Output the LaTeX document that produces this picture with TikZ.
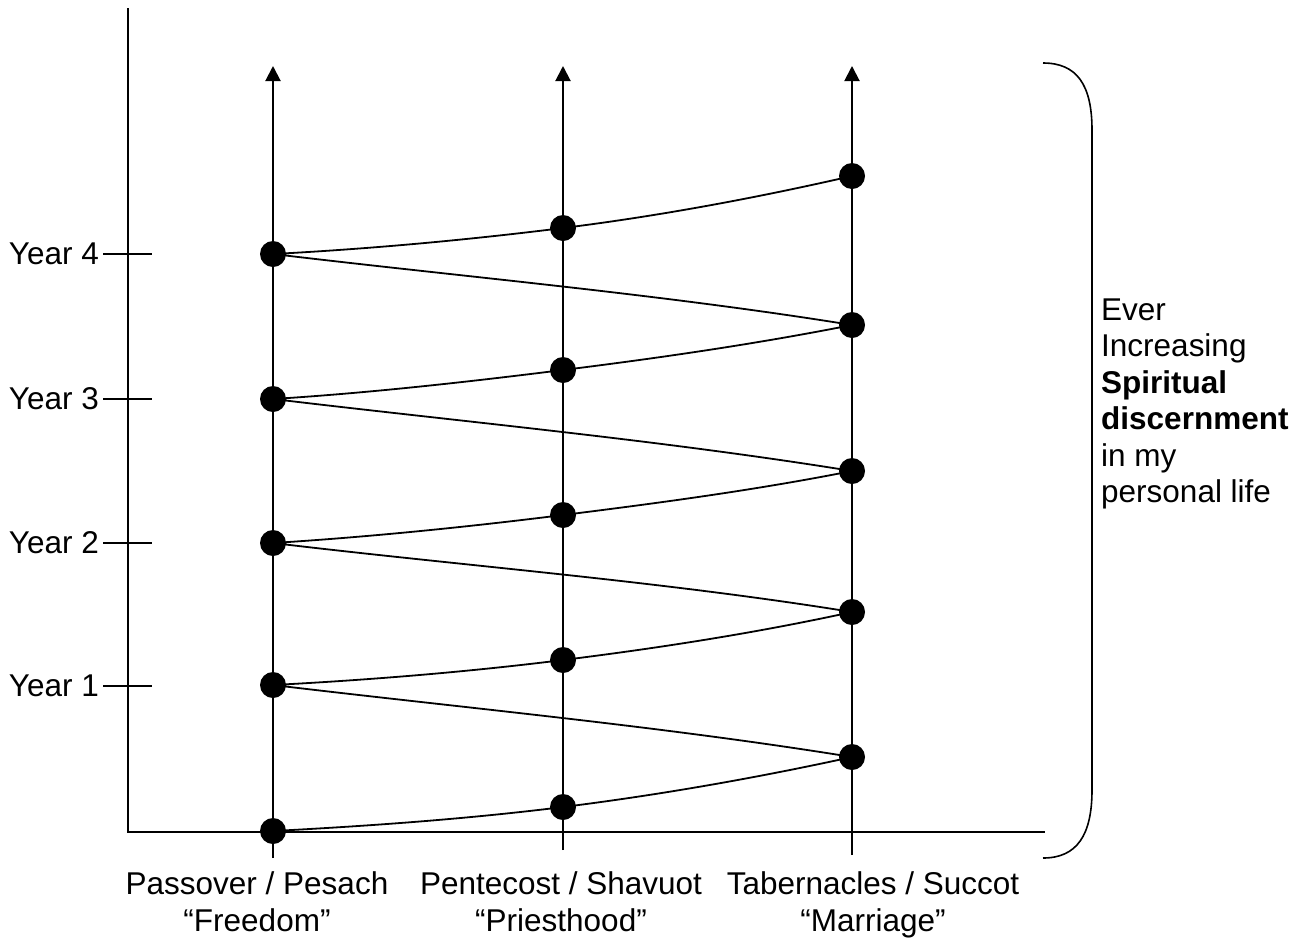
\documentclass[tikz,border=0pt]{standalone}
\usepackage{fontspec}
\setmainfont{Liberation Sans}
\usetikzlibrary{arrows.meta}
\begin{document}
\begin{tikzpicture}[x=1pt,y=-1pt,
  ln/.style={line width=2pt},
  col/.style={line width=2pt,-{Triangle[length=15pt,width=15pt]}},
  dotn/.style={circle,fill=black,minimum size=26pt,inner sep=0pt},
  lbl/.style={font=\fontsize{31.5}{36.5}\selectfont,inner sep=0pt},
  crv/.style={line width=1.8pt},
  tick/.style={line width=1.8pt}]
\useasboundingbox (0,0) rectangle (1315,938);
% axes
\coordinate (ytop) at (128,8);
\coordinate (orig) at (128,832);
\coordinate (xend) at (1045,832);
\draw[ln] (ytop) -- (orig) -- (xend);
% columns
\coordinate (pbot) at (273,858); \coordinate (ptop) at (273,66);
\coordinate (qbot) at (563,850); \coordinate (qtop) at (563,66);
\coordinate (tbot) at (852,855); \coordinate (ttop) at (852,66);
\draw[col] (pbot) -- (ptop);
\draw[col] (qbot) -- (qtop);
\draw[col] (tbot) -- (ttop);
% year ticks and labels
\foreach \n/\yy in {1/686,2/543,3/399,4/254}{
  \coordinate (ya\n) at (103,\yy);
  \coordinate (yb\n) at (152,\yy);
  \draw[tick] (ya\n) -- (yb\n);
  \node[lbl,anchor=base east] (yl\n) at (99,\yy+10) {Year \n};
}
% dots
\node[dotn] (p0) at (273,831) {};
\node[dotn] (p1) at (273,685) {};
\node[dotn] (p2) at (273,543) {};
\node[dotn] (p3) at (273,399) {};
\node[dotn] (p4) at (273,254) {};
\node[dotn] (q0) at (563,807) {};
\node[dotn] (q1) at (563,660) {};
\node[dotn] (q2) at (563,515) {};
\node[dotn] (q3) at (563,370) {};
\node[dotn] (q4) at (563,228) {};
\node[dotn] (t0) at (852,757) {};
\node[dotn] (t1) at (852,612) {};
\node[dotn] (t2) at (852,471) {};
\node[dotn] (t3) at (852,325) {};
\node[dotn] (t4) at (852,176) {};
% spiral curve
\draw[crv] (p0.center) .. controls +(96,-5) and +(-96,12) .. (q0.center)
  .. controls +(96,-12) and +(-96,21) .. (t0.center)
  .. controls +(-192,-31) and +(192,23) .. (p1.center)
  .. controls +(96,-5) and +(-96,12) .. (q1.center)
  .. controls +(96,-12) and +(-96,21) .. (t1.center)
  .. controls +(-192,-31) and +(192,23) .. (p2.center)
  .. controls +(96,-6) and +(-96,12) .. (q2.center)
  .. controls +(96,-12) and +(-96,19) .. (t2.center)
  .. controls +(-192,-31) and +(192,23) .. (p3.center)
  .. controls +(96,-6) and +(-96,12) .. (q3.center)
  .. controls +(96,-12) and +(-96,19) .. (t3.center)
  .. controls +(-192,-31) and +(192,23) .. (p4.center)
  .. controls +(96,-5) and +(-96,12) .. (q4.center)
  .. controls +(96,-12) and +(-96,22) .. (t4.center);
% brace
\coordinate (bra) at (1043,63);
\coordinate (brb) at (1092,130);
\coordinate (brc) at (1092,790);
\coordinate (brd) at (1043,858);
\draw[line width=1.6pt] (bra) .. controls +(34,0) and +(0,-45) .. (brb) -- (brc)
  .. controls +(0,45) and +(34,0) .. (brd);
% bottom labels
\node[lbl,anchor=base] (la1) at (257,894) {Passover / Pesach};
\node[lbl,anchor=base] (la2) at (257,931) {“Freedom”};
\node[lbl,anchor=base] (lb1) at (561,894) {Pentecost / Shavuot};
\node[lbl,anchor=base] (lb2) at (561,931) {“Priesthood”};
\node[lbl,anchor=base] (lc1) at (873,894) {Tabernacles / Succot};
\node[lbl,anchor=base] (lc2) at (873,931) {“Marriage”};
% right text
\node[lbl,anchor=base west] (r1) at (1101,320) {Ever};
\node[lbl,anchor=base west] (r2) at (1101,356.5) {Increasing};
\node[lbl,anchor=base west] (r3) at (1101,393) {\bfseries Spiritual};
\node[lbl,anchor=base west] (r4) at (1101,429.5) {\bfseries discernment};
\node[lbl,anchor=base west] (r5) at (1101,466) {in my};
\node[lbl,anchor=base west] (r6) at (1101,502.5) {personal life};
\end{tikzpicture}
\end{document}
